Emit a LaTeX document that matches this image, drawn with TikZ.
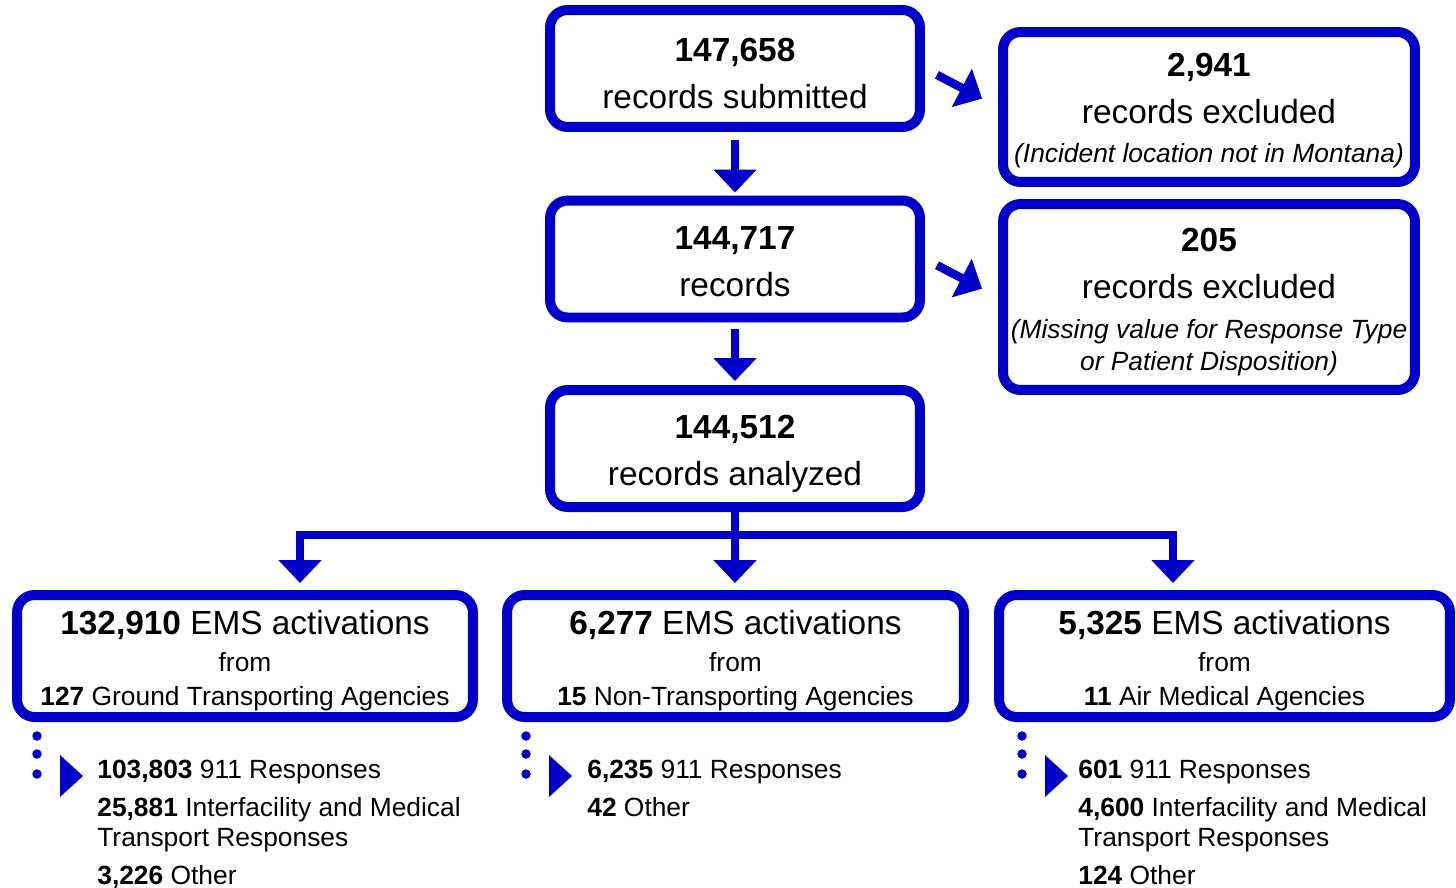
\documentclass[tikz,border=0pt]{standalone}
\usepackage{fontspec}
\setmainfont{Liberation Sans}
\usetikzlibrary{arrows.meta}
\definecolor{emsblue}{RGB}{0,0,200}
\tikzset{
  flowbox/.style={rectangle, draw=emsblue, line width=0.2cm, rounded corners=0.35cm, inner sep=0pt, align=center, fill=white},
  bigtext/.style={font=\fontsize{19}{26.5}\selectfont},
  smalltext/.style={font=\fontsize{15}{19.3}\selectfont},
  listtext/.style={font=\fontsize{15}{17}\selectfont, align=left, inner sep=0pt, anchor=north west},
  blockarrow/.style={draw=emsblue, line width=0.17cm, -{Triangle[width=0.84cm,length=0.46cm]}},
}
\newcommand{\noteit}{\fontsize{15}{18}\selectfont\itshape}
\newcommand{\topgap}[1]{\rule{0pt}{#1}}
\begin{document}
\begin{tikzpicture}[x=0.02cm, y=-0.02cm]
        \useasboundingbox (0,0) rectangle (1456,887);

        \node[flowbox, bigtext, minimum width=7.4cm, minimum height=2.34cm] (submitted) at (735,68.5) {\topgap{18.7pt}\textbf{147,658}\\records submitted};
        \node[flowbox, bigtext, minimum width=8.24cm, minimum height=3cm] (outside) at (1209,107) {\topgap{17.7pt}\textbf{2,941}\\records excluded\\[-4pt]{\noteit (Incident location not in Montana)}};
        \node[flowbox, bigtext, minimum width=7.4cm, minimum height=2.34cm] (records) at (735,259) {\topgap{15.9pt}\textbf{144,717}\\records};
        \node[flowbox, bigtext, minimum width=8.24cm, minimum height=3.72cm] (missing) at (1209,297) {\topgap{19.3pt}\textbf{205}\\records excluded\\[-3.8pt]{\noteit (Missing value for Response Type}\\[-7.8pt]{\noteit or Patient Disposition)}};
        \node[flowbox, bigtext, minimum width=7.4cm, minimum height=2.34cm] (analyzed) at (735,448.5) {\topgap{19.3pt}\textbf{144,512}\\records analyzed};

        \node[flowbox, smalltext, minimum width=9.12cm, minimum height=2.44cm] (ground) at (245,656) {{\fontsize{19}{25}\selectfont\topgap{18.7pt}\textbf{132,910} EMS activations}\\[1.7pt]from\\\textbf{127} Ground Transporting Agencies};
        \node[flowbox, smalltext, minimum width=9.14cm, minimum height=2.44cm] (nontrans) at (735.5,656) {{\fontsize{19}{25}\selectfont\topgap{18.7pt}\textbf{6,277} EMS activations}\\[1.7pt]from\\\textbf{15} Non-Transporting Agencies};
        \node[flowbox, smalltext, minimum width=9.02cm, minimum height=2.44cm] (air) at (1224.5,656) {{\fontsize{19}{25}\selectfont\topgap{18.7pt}\textbf{5,325} EMS activations}\\[1.7pt]from\\\textbf{11} Air Medical Agencies};

        \draw[blockarrow, shorten <=0.16cm, shorten >=0.06cm] (submitted) -- (records);
        \draw[blockarrow, shorten <=0.14cm, shorten >=0.08cm] (records) -- (analyzed);
        \draw[blockarrow, shorten <=0.27cm, shorten >=0.36cm] (submitted.east) -- (outside.west);
        \draw[blockarrow, shorten <=0.27cm, shorten >=0.36cm] (records.east) -- (missing.west);

        \coordinate (lsplit) at (300,535);
        \coordinate (rsplit) at (1173,535);
        \draw[blockarrow, shorten >=0.14cm] (rsplit) -- (lsplit) -- (lsplit |- ground.north);
        \draw[blockarrow, shorten >=0.14cm] (lsplit) -- (rsplit) -- (rsplit |- air.north);
        \draw[blockarrow, shorten >=0.14cm] (analyzed) -- (analyzed |- nontrans.north);

        % breakdown markers
        \foreach \dotx/\tipx in {37/60, 526/549, 1022/1045} {
          \foreach \doty in {736,754,774}
            \fill[emsblue] (\dotx,\doty) circle (0.095cm);
          \fill[emsblue] (\tipx,755) -- (\tipx+23,776) -- (\tipx,797) -- cycle;
        }

        \node[listtext] (groundlist) at (97,760) {\textbf{103,803} 911 Responses\\[4.5pt]\textbf{25,881} Interfacility and Medical\\Transport Responses\\[4.5pt]\textbf{3,226} Other};
        \node[listtext] (nontranslist) at (587,760) {\textbf{6,235} 911 Responses\\[4.5pt]\textbf{42} Other};
        \node[listtext] (airlist) at (1078,760) {\textbf{601} 911 Responses\\[4.5pt]\textbf{4,600} Interfacility and Medical\\Transport Responses\\[4.5pt]\textbf{124} Other};
\end{tikzpicture}
\end{document}
